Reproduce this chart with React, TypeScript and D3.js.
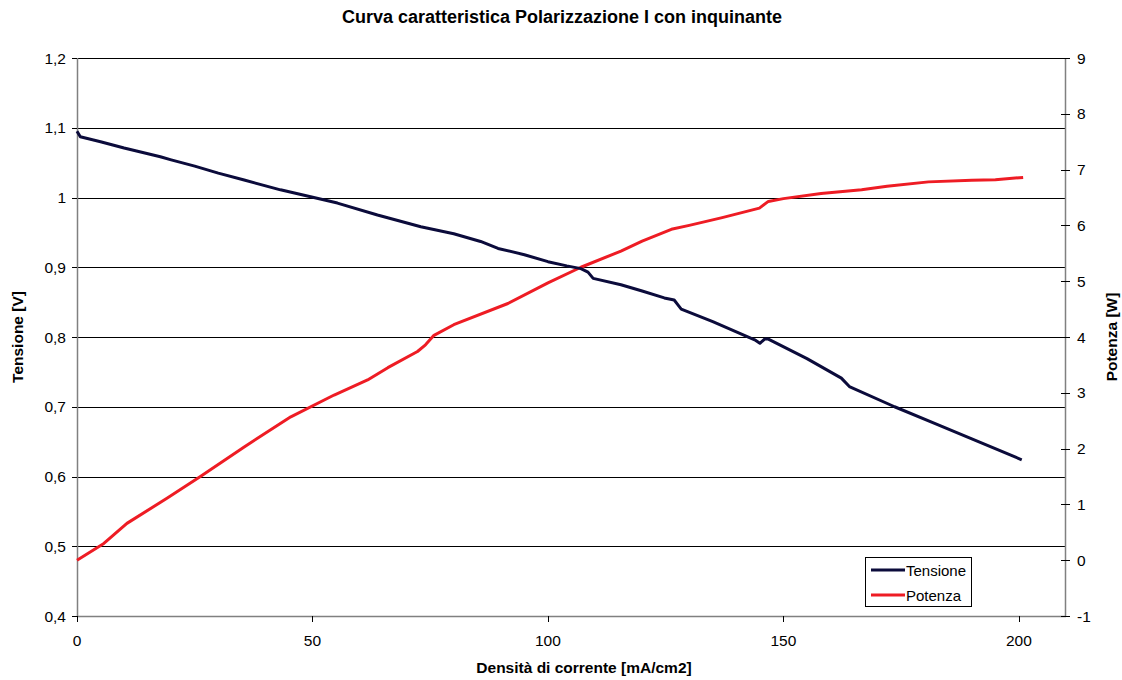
import React from "react";
import * as d3 from "d3";

const densX = [0, 0.7, 5, 10, 17.7, 20, 25, 30, 35.5, 43.2, 49.6, 55.3, 63.8, 68.7, 73, 80, 85.7, 89.4, 95, 100, 104, 107, 108.5, 109.6, 115.5, 120, 124.7, 126.8, 127.6, 128.3, 135, 143.9, 145, 146, 146.8, 155, 162.3, 164, 173.6, 182.1, 190, 200.6];
const tensione = [1.095, 1.087, 1.08, 1.071, 1.0585, 1.054, 1.045, 1.035, 1.025, 1.011, 1.001, 0.992, 0.975, 0.966, 0.958, 0.948, 0.937, 0.927, 0.918, 0.908, 0.902, 0.898, 0.893, 0.884, 0.875, 0.866, 0.856, 0.853, 0.846, 0.84, 0.822, 0.796, 0.791, 0.797, 0.797, 0.769, 0.741, 0.729, 0.7, 0.676, 0.654, 0.624];

const potX = [0, 5.7, 10.6, 19.1, 26.2, 35.5, 45.4, 54.6, 61.7, 66, 72.3, 74, 75.8, 80, 91.5, 100, 107, 115.5, 120, 126.2, 130, 137, 144.9, 146.8, 150, 158, 166.6, 172, 180.8, 190, 195, 200.9];
const potenza = [0.0, 0.3, 0.66, 1.11, 1.5, 2.03, 2.57, 2.96, 3.23, 3.45, 3.74, 3.86, 4.03, 4.22, 4.6, 4.97, 5.25, 5.54, 5.72, 5.93, 6.0, 6.14, 6.31, 6.43, 6.48, 6.57, 6.64, 6.7, 6.78, 6.81, 6.82, 6.86];

const xTicks = [0, 50, 100, 150, 200];
const yLeftTicks = [0.4, 0.5, 0.6, 0.7, 0.8, 0.9, 1.0, 1.1, 1.2];
const yRightTicks = [-1, 0, 1, 2, 3, 4, 5, 6, 7, 8, 9];

const TITLE = "Curva caratteristica Polarizzazione I con inquinante";
const X_LABEL = "Densità di corrente [mA/cm2]";
const YL_LABEL = "Tensione [V]";
const YR_LABEL = "Potenza [W]";
const SERIES = ["Tensione", "Potenza"];
const COLORS = ["#0b0b3b", "#ee1c24"];

const fmt = (v: number) => {
  const s = Number.isInteger(v) ? String(v) : v.toFixed(1);
  return s.replace(".", ",");
};

export default function App() {
  const left = 77, right = 1066, top = 58, bottom = 616;
  const x = d3.scaleLinear().domain([0, 210]).range([left, right]);
  const yL = d3.scaleLinear().domain([0.4, 1.2]).range([bottom, top]);
  const yR = d3.scaleLinear().domain([-1, 9]).range([bottom, top]);

  const lineV = d3.line<number>().x((_, i) => x(densX[i])).y((d) => yL(d));
  const lineP = d3.line<number>().x((_, i) => x(potX[i])).y((d) => yR(d));

  const font = "'Liberation Sans', Arial, sans-serif";

  return (
    <svg width={1122} height={680} style={{ position: "absolute", left: 0, top: 0, background: "#fff" }} fontFamily={font}>
      <rect x={0} y={0} width={1122} height={680} fill="#fff" />
      <text x={562} y={23} textAnchor="middle" fontSize={18} fontWeight="bold" fill="#000">{TITLE}</text>

      {yLeftTicks.map((t) => (
        <line key={"g" + t} x1={left} x2={right} y1={Math.round(yL(t)) + 0.5} y2={Math.round(yL(t)) + 0.5} stroke="#000" strokeWidth={1} />
      ))}

      <line x1={left + 0.5} x2={left + 0.5} y1={top} y2={bottom} stroke="#808080" strokeWidth={1.5} />
      <line x1={right - 0.5} x2={right - 0.5} y1={top} y2={bottom} stroke="#808080" strokeWidth={1.5} />
      <line x1={left} x2={right} y1={bottom + 0.5} y2={bottom + 0.5} stroke="#808080" strokeWidth={1.5} />

      {yLeftTicks.map((t) => (
        <g key={"l" + t}>
          <line x1={left - 5} x2={left} y1={Math.round(yL(t)) + 0.5} y2={Math.round(yL(t)) + 0.5} stroke="#000" />
          <text x={66} y={yL(t) + 5.5} textAnchor="end" fontSize={15.5} fill="#000">{fmt(t)}</text>
        </g>
      ))}
      {yRightTicks.map((t) => (
        <g key={"r" + t}>
          <line x1={right - 5} x2={right + 4} y1={Math.round(yR(t)) + 0.5} y2={Math.round(yR(t)) + 0.5} stroke="#000" />
          <text x={1077} y={yR(t) + 5.5} textAnchor="start" fontSize={15.5} fill="#000">{fmt(t)}</text>
        </g>
      ))}
      {xTicks.map((t) => (
        <g key={"x" + t}>
          <line x1={Math.round(x(t)) + 0.5} x2={Math.round(x(t)) + 0.5} y1={bottom} y2={bottom + 6} stroke="#000" />
          <text x={x(t)} y={646} textAnchor="middle" fontSize={15.5} fill="#000">{fmt(t)}</text>
        </g>
      ))}

      <text x={584} y={673} textAnchor="middle" fontSize={15.5} fontWeight="bold" fill="#000">{X_LABEL}</text>
      <text transform={`translate(23,${(top + bottom) / 2}) rotate(-90)`} textAnchor="middle" fontSize={15.5} fontWeight="bold" fill="#000">{YL_LABEL}</text>
      <text transform={`translate(1117,${(top + bottom) / 2}) rotate(-90)`} textAnchor="middle" fontSize={15.5} fontWeight="bold" fill="#000">{YR_LABEL}</text>

      <path d={lineP(potenza) || ""} fill="none" stroke={COLORS[1]} strokeWidth={3} strokeLinejoin="round" />
      <path d={lineV(tensione) || ""} fill="none" stroke={COLORS[0]} strokeWidth={3} strokeLinejoin="round" />

      <rect x={865.5} y={557.5} width={106} height={49} fill="#fff" stroke="#000" strokeWidth={1} />
      {SERIES.map((s, i) => (
        <g key={s}>
          <line x1={871} x2={905} y1={570 + i * 25} y2={570 + i * 25} stroke={COLORS[i]} strokeWidth={3} />
          <text x={906} y={575.5 + i * 25} fontSize={15} fill="#000">{s}</text>
        </g>
      ))}
    </svg>
  );
}
